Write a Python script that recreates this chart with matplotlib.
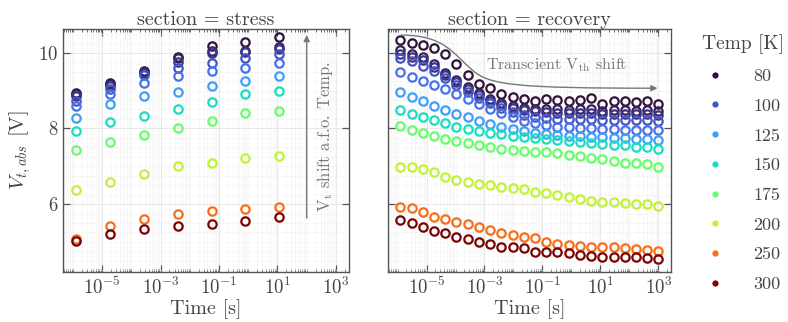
import numpy as np
import matplotlib
matplotlib.use("Agg")
import matplotlib.pyplot as plt
from matplotlib.lines import Line2D
from matplotlib.patches import FancyArrowPatch
from matplotlib.path import Path
from matplotlib import ticker

plt.rcParams['font.family'] = 'serif'
plt.rcParams['font.serif'] = ['cmr10']
plt.rcParams['mathtext.fontset'] = 'cm'
plt.rcParams['axes.formatter.use_mathtext'] = True
plt.rcParams['axes.unicode_minus'] = False

# ---------------- data ----------------
temps = [80, 85, 90, 100, 110, 125, 150, 175, 200, 250, 300]
legend_temps = [80, 100, 125, 150, 175, 200, 250, 300]

stress_time = [1.23e-6, 1.8e-5, 2.6e-4, 3.8e-3, 5.6e-2, 0.80, 11.5]
stress_vt = {
    80:  [8.93, 9.21, 9.53, 9.90, 10.19, 10.29, 10.41],
    85:  [8.90, 9.17, 9.50, 9.85, 10.05, 10.04, 10.16],
    90:  [8.86, 9.12, 9.46, 9.75, 10.00, 10.01, 10.10],
    100: [8.72, 9.03, 9.40, 9.60, 9.72, 9.85, 9.98],
    110: [8.60, 8.91, 9.19, 9.39, 9.53, 9.59, 9.72],
    125: [8.28, 8.65, 8.86, 8.97, 9.13, 9.25, 9.39],
    150: [7.93, 8.16, 8.34, 8.51, 8.69, 8.91, 9.00],
    175: [7.43, 7.63, 7.83, 8.02, 8.19, 8.40, 8.46],
    200: [6.37, 6.59, 6.79, 7.00, 7.08, 7.23, 7.28],
    250: [5.07, 5.42, 5.61, 5.75, 5.81, 5.86, 5.93],
    300: [5.03, 5.21, 5.33, 5.43, 5.48, 5.55, 5.65],
}

recovery_time = [1.26e-6, 3.07e-6, 7.48e-6, 1.82e-5, 4.45e-5, 1.08e-4,
                 2.64e-4, 6.44e-4, 1.57e-3, 3.83e-3, 9.3e-3, 2.28e-2,
                 5.5e-2, 0.135, 0.33, 0.80, 1.96, 4.78,
                 11.6, 28.4, 69.0, 169.0, 411.0, 1000.0]
recovery_vt = {
    80:  [10.34, 10.27, 10.20, 10.12, 9.97, 9.71, 9.41, 9.18, 9.07, 8.92, 8.83, 8.78,
          8.72, 8.77, 8.75, 8.73, 8.76, 8.80, 8.65, 8.73, 8.73, 8.71, 8.73, 8.64],
    85:  [10.07, 9.98, 9.88, 9.70, 9.46, 9.28, 9.10, 8.93, 8.78, 8.66, 8.59, 8.55,
          8.52, 8.51, 8.50, 8.49, 8.50, 8.51, 8.45, 8.49, 8.48, 8.46, 8.48, 8.47],
    90:  [9.98, 9.90, 9.80, 9.63, 9.42, 9.22, 9.03, 8.87, 8.73, 8.62, 8.54, 8.49,
          8.46, 8.44, 8.42, 8.41, 8.40, 8.41, 8.38, 8.39, 8.38, 8.37, 8.38, 8.36],
    100: [9.85, 9.78, 9.66, 9.52, 9.33, 9.14, 8.96, 8.80, 8.66, 8.53, 8.43, 8.36,
          8.31, 8.28, 8.26, 8.25, 8.24, 8.24, 8.22, 8.23, 8.22, 8.21, 8.22, 8.20],
    110: [9.50, 9.37, 9.25, 9.14, 9.03, 8.91, 8.78, 8.65, 8.52, 8.40, 8.29, 8.20,
          8.13, 8.08, 8.05, 8.03, 8.01, 8.00, 7.98, 7.98, 7.97, 7.96, 7.96, 7.95],
    125: [8.97, 8.84, 8.72, 8.60, 8.49, 8.39, 8.29, 8.20, 8.12, 8.05, 7.99, 7.93,
          7.88, 7.85, 7.83, 7.81, 7.79, 7.78, 7.76, 7.75, 7.74, 7.72, 7.72, 7.70],
    150: [8.49, 8.37, 8.29, 8.21, 8.13, 8.05, 7.99, 7.93, 7.88, 7.84, 7.81, 7.78,
          7.75, 7.72, 7.70, 7.68, 7.65, 7.62, 7.60, 7.57, 7.55, 7.52, 7.50, 7.45],
    175: [8.07, 7.96, 7.87, 7.79, 7.73, 7.68, 7.62, 7.55, 7.51, 7.45, 7.43, 7.40,
          7.38, 7.37, 7.34, 7.31, 7.27, 7.21, 7.18, 7.15, 7.09, 7.08, 7.05, 6.97],
    200: [6.99, 6.97, 6.92, 6.84, 6.71, 6.64, 6.57, 6.53, 6.50, 6.46, 6.42, 6.40,
          6.33, 6.29, 6.24, 6.18, 6.13, 6.09, 6.06, 6.05, 6.02, 6.00, 5.99, 5.95],
    250: [5.93, 5.89, 5.80, 5.65, 5.61, 5.53, 5.47, 5.39, 5.32, 5.24, 5.18, 5.12,
          5.10, 5.01, 4.95, 4.92, 4.89, 4.87, 4.87, 4.86, 4.83, 4.81, 4.79, 4.76],
    300: [5.58, 5.51, 5.39, 5.30, 5.23, 5.14, 5.07, 5.01, 4.95, 4.87, 4.86, 4.83,
          4.72, 4.74, 4.72, 4.70, 4.66, 4.63, 4.61, 4.59, 4.61, 4.59, 4.57, 4.54],
}

# ---------------- style ----------------
cmap = plt.get_cmap('turbo')
norm = plt.Normalize(min(temps), max(temps))
TXT = '#444444'
SPINE = '#555555'

fig = plt.figure(figsize=(7.88, 3.22), dpi=100)
ax1 = fig.add_axes([0.080, 0.156, 0.363, 0.753])
ax2 = fig.add_axes([0.492, 0.156, 0.360, 0.753], sharex=ax1, sharey=ax1)

for ax, times, data in ((ax1, stress_time, stress_vt), (ax2, recovery_time, recovery_vt)):
    for T in temps:
        ax.plot(times, data[T], ls='none', marker='o', ms=6, mew=1.6,
                mfc='none', mec=cmap(norm(T)), zorder=3)

ax1.set_xscale('log')
ax1.set_ylim(4.21, 10.62)
ax1.set_xlim(10**-6.34, 10**3.45)

for ax in (ax1, ax2):
    ax.xaxis.set_major_locator(ticker.FixedLocator([1e-5, 1e-3, 1e-1, 1e1, 1e3]))
    ax.xaxis.set_minor_locator(ticker.LogLocator(base=10, subs=np.arange(1, 10), numticks=30))
    ax.xaxis.set_minor_formatter(ticker.NullFormatter())
    ax.yaxis.set_major_locator(ticker.FixedLocator([6, 8, 10]))
    ax.yaxis.set_minor_locator(ticker.MultipleLocator(0.25))
    ax.grid(True, which='major', color='#e4e4e4', lw=0.6, zorder=0)
    ax.grid(True, which='minor', color='#f1f1f1', lw=0.4, zorder=0)
    ax.tick_params(which='both', direction='in', top=True, right=True,
                   colors=SPINE, labelcolor=TXT, labelsize=13.5)
    ax.tick_params(which='major', length=5, width=0.9)
    ax.tick_params(axis='x', which='minor', length=2.5, width=0.6)
    ax.tick_params(axis='y', which='minor', length=0)
    for s in ax.spines.values():
        s.set_color(SPINE)
        s.set_linewidth(1.0)
    ax.set_xlabel('Time [s]', fontsize=14.5, color=TXT, labelpad=1)

ax2.tick_params(labelleft=False)
ax1.set_ylabel(r'$V_{t,abs}$ [V]', fontsize=15, color=TXT, labelpad=4)
ax1.set_title('section = stress', fontsize=14.5, color=TXT, pad=3)
ax2.set_title('section = recovery', fontsize=14.5, color=TXT, pad=3)

# ---------------- annotations ----------------
ax1.annotate('', xy=(100, 10.47), xytext=(100, 5.63),
             arrowprops=dict(arrowstyle='-|>', color='#777777', lw=1.0,
                             mutation_scale=9, shrinkA=0, shrinkB=0))
ax1.text(10**2.62, 7.78, r'V$_{\rm t}$ shift a.f.o. Temp.', rotation=90,
         ha='center', va='center', fontsize=12, color='#777777')

verts = [(0.048, 0.976), (0.20, 0.976), (0.23, 0.90), (0.30, 0.83),
         (0.36, 0.77), (0.45, 0.757), (0.951, 0.757)]
codes = [Path.MOVETO, Path.CURVE4, Path.CURVE4, Path.CURVE4,
         Path.CURVE4, Path.CURVE4, Path.CURVE4]
arr = FancyArrowPatch(path=Path(verts, codes), arrowstyle='-|>',
                      mutation_scale=9, color='#777777', lw=1.0,
                      transform=ax2.transAxes, zorder=4)
ax2.add_patch(arr)
ax2.text(0.594, 0.853, r'Transcient V$_{\rm th}$ shift', transform=ax2.transAxes,
         ha='center', va='center', fontsize=11.5, color='#777777')

# ---------------- legend ----------------
handles = [Line2D([], [], ls='none', marker='o', ms=4.5, mec='none',
                  mfc=cmap(norm(T))) for T in legend_temps]
leg = fig.legend(handles, [str(T) for T in legend_temps], title='Temp [K]',
                 loc='upper left', bbox_to_anchor=(0.882, 0.915), frameon=False,
                 fontsize=13, title_fontsize=14, labelspacing=0.78,
                 handlelength=1.0, handletextpad=1.6, borderaxespad=0)
for t in leg.get_texts():
    t.set_color(TXT)
leg.get_title().set_color(TXT)

fig.savefig('out.png', dpi=100)
